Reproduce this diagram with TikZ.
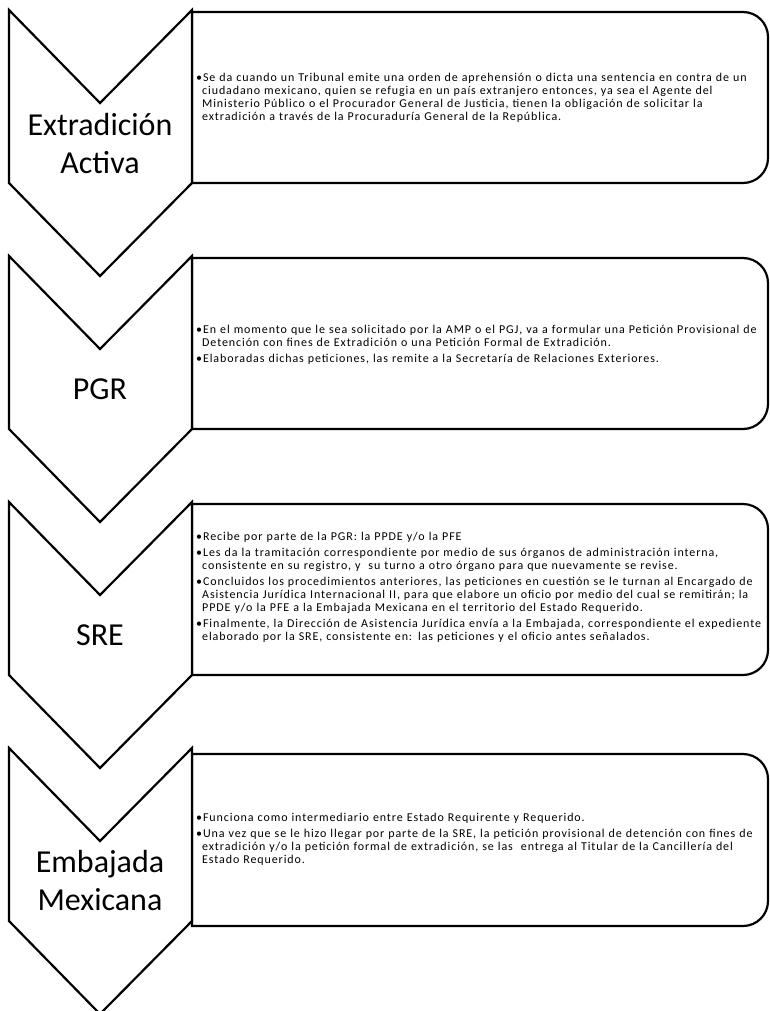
\documentclass[tikz,border=0pt]{standalone}
\usepackage{fontspec}
\setmainfont{Carlito}
\newfontfamily\bodyfont{Carlito}[LetterSpace=7.5]
\usepackage{tikz}

\newlength{\bulwd}
\newcommand{\itm}{\par\setlength{\parskip}{3pt}\hangindent=\bulwd\hangafter=1\noindent•}

\tikzset{
  chev/.style={draw=black, line width=2.2pt, line join=miter, fill=white},
  panel/.style={draw=black, line width=2.2pt, fill=white},
  stage/.style={font=\fontsize{32}{38}\selectfont, align=center, inner sep=0pt},
  notes/.style={anchor=west, text width=580pt, align=left, inner sep=2pt,
    font=\bodyfont\fontsize{12}{13}\selectfont\settowidth{\bulwd}{•}}
}

\begin{document}
\begin{tikzpicture}[x=1pt, y=-1pt]
\useasboundingbox (0,0) rectangle (770,1011);

\draw[panel] (192,12) -- (743,12) arc[start angle=90, end angle=0, radius=25pt] -- (768,158) arc[start angle=0, end angle=-90, radius=25pt] -- (192,183) -- cycle;
\draw[panel] (192,258) -- (743,258) arc[start angle=90, end angle=0, radius=25pt] -- (768,404) arc[start angle=0, end angle=-90, radius=25pt] -- (192,429) -- cycle;
\draw[panel] (192,504) -- (743,504) arc[start angle=90, end angle=0, radius=25pt] -- (768,650) arc[start angle=0, end angle=-90, radius=25pt] -- (192,675) -- cycle;
\draw[panel] (192,754) -- (743,754) arc[start angle=90, end angle=0, radius=25pt] -- (768,901) arc[start angle=0, end angle=-90, radius=25pt] -- (192,926) -- cycle;

\draw[chev] (9,10) -- (100,103) -- (192,10) -- (192,183) -- (100,276) -- (9,183) -- cycle;
\draw[chev] (9,256) -- (100,349) -- (192,256) -- (192,429) -- (100,522) -- (9,429) -- cycle;
\draw[chev] (9,502) -- (100,595) -- (192,502) -- (192,675) -- (100,768) -- (9,675) -- cycle;
\draw[chev] (9,748) -- (100,841) -- (192,748) -- (192,921) -- (100,1014) -- (9,921) -- cycle;

\node[stage] (activa) at (100,144) {Extradición\\Activa};
\node[stage] (pgr) at (100,389) {PGR};
\node[stage] (sre) at (100,635) {SRE};
\node[stage] (embajada) at (100,880) {Embajada\\Mexicana};

\node[notes] (activatxt) at (194,94) {\itm Se da cuando un Tribunal emite una orden de aprehensión o dicta una sentencia en contra de un\newline ciudadano mexicano, quien se refugia en un país extranjero entonces, ya sea el Agente del\newline Ministerio Público o el Procurador General de Justicia, tienen la obligación de solicitar la\newline extradición a través de la Procuraduría General de la República.\par};

\node[notes] (pgrtxt) at (194,341) {\itm En el momento que le sea solicitado por la AMP o el PGJ, va a formular una Petición Provisional de\newline Detención con fines de Extradición o una Petición Formal de Extradición.
\itm Elaboradas dichas peticiones, las remite a la Secretaría de Relaciones Exteriores.\par};

\node[notes] (sretxt) at (194,583) {\itm Recibe por parte de la PGR: la PPDE y/o la PFE
\itm Les da la tramitación correspondiente por medio de sus órganos de administración interna,\newline consistente en su registro, y~ su turno a otro órgano para que nuevamente se revise.
\itm Concluidos los procedimientos anteriores, las peticiones en cuestión se le turnan al Encargado de\newline Asistencia Jurídica Internacional II, para que elabore un oficio por medio del cual se remitirán; la\newline PPDE y/o la PFE a la Embajada Mexicana en el territorio del Estado Requerido.
\itm Finalmente, la Dirección de Asistencia Jurídica envía a la Embajada, correspondiente el expediente\newline elaborado por la SRE, consistente en: las peticiones y el oficio antes señalados.\par};

\node[notes] (embajadatxt) at (194,835) {\itm Funciona como intermediario entre Estado Requirente y Requerido.
\itm Una vez que se le hizo llegar por parte de la SRE, la petición provisional de detención con fines de\newline extradición y/o la petición formal de extradición, se las~ entrega al Titular de la Cancillería del\newline Estado Requerido.\par};
\end{tikzpicture}
\end{document}
